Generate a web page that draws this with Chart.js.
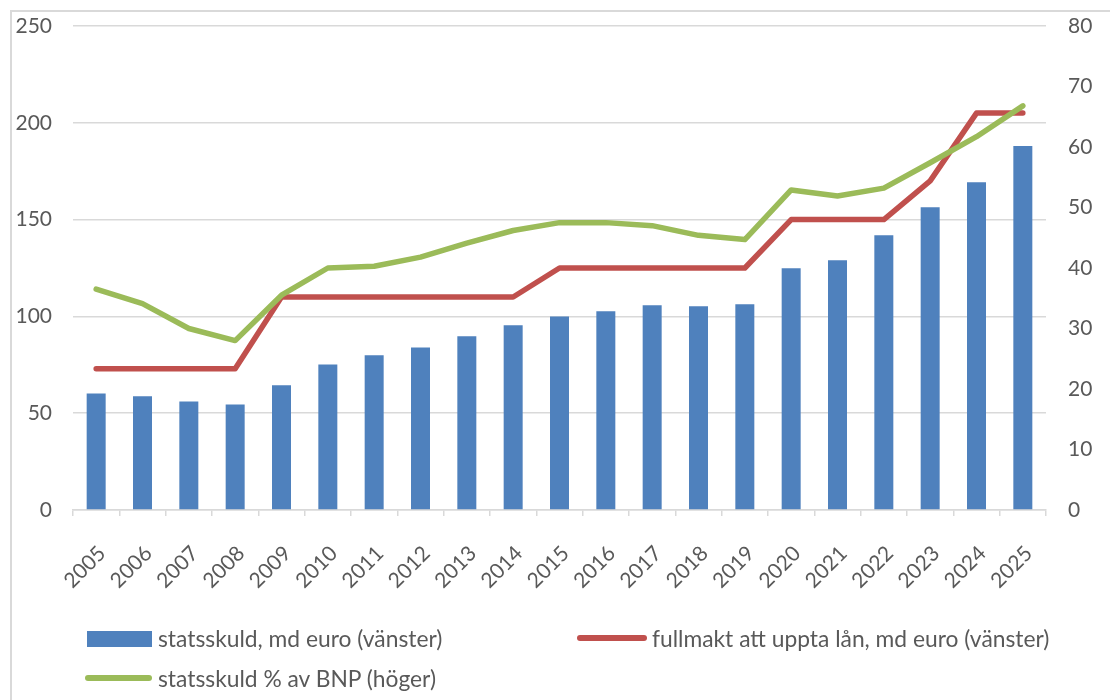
<!DOCTYPE html>
<html>
<head>
<meta charset="utf-8">
<script src="https://cdn.jsdelivr.net/npm/chart.js@4/dist/chart.umd.min.js"></script>
<style>
  html, body { margin: 0; padding: 0; background: #fff; }
  #wrap { position: relative; width: 1110px; height: 700px; overflow: hidden; background: #fff; }
  #frame { position: absolute; left: 10px; top: 10px; width: 1200px; height: 800px;
           border-top: 2px solid #d9d9d9; border-left: 2px solid #d9d9d9; box-sizing: border-box; }
  #c { position: absolute; left: 0; top: 0; }
  .lg { position: absolute; font-family: Lato, sans-serif; font-size: 22.8px; color: #595959; white-space: nowrap; }
  .sw { position: absolute; }
</style>
</head>
<body>
<div id="wrap">
  <div id="frame"></div>
  <canvas id="c" width="1110" height="700"></canvas>
  <div id="legend"></div>
</div>
<script>
const years = ['2005','2006','2007','2008','2009','2010','2011','2012','2013','2014','2015','2016','2017','2018','2019','2020','2021','2022','2023','2024','2025'];
const debt = [60.2, 58.7, 56.1, 54.5, 64.4, 75.2, 79.9, 84.0, 89.7, 95.4, 100.0, 102.6, 105.7, 105.2, 106.3, 124.9, 129.0, 141.9, 156.4, 169.3, 188.0];
const mandate = [73, 73, 73, 73, 110, 110, 110, 110, 110, 110, 125, 125, 125, 125, 125, 150, 150, 150, 170, 205, 205];
const debtGdp = [36.5, 34.1, 30.0, 28.0, 35.5, 40.0, 40.3, 41.8, 44.1, 46.2, 47.5, 47.5, 47.0, 45.4, 44.7, 52.9, 51.9, 53.2, 57.4, 61.7, 66.8];
const leftTicks = [0, 50, 100, 150, 200, 250];
const rightTicks = [0, 10, 20, 30, 40, 50, 60, 70, 80];
const labels = ['statsskuld, md euro (vänster)', 'fullmakt att uppta lån, md euro (vänster)', 'statsskuld % av BNP (höger)'];

const BLUE = '#4F81BD', RED = '#C0504D', GREEN = '#9BBB59';
const TXT = '#595959', GRID = '#d9d9d9';
const tickFont = { family: 'Lato', size: 21 };

const chart = new Chart(document.getElementById('c'), {
  type: 'bar',
  data: {
    labels: years,
    datasets: [
      { type: 'bar', label: labels[0], data: debt, backgroundColor: BLUE, yAxisID: 'y',
        categoryPercentage: 1, barPercentage: 0.41, order: 3 },
      { type: 'line', label: labels[1], data: mandate, borderColor: RED, backgroundColor: RED, yAxisID: 'y',
        borderWidth: 5.5, pointRadius: 0, tension: 0, borderCapStyle: 'round', borderJoinStyle: 'round', order: 2 },
      { type: 'line', label: labels[2], data: debtGdp, borderColor: GREEN, backgroundColor: GREEN, yAxisID: 'y2',
        borderWidth: 5.5, pointRadius: 0, tension: 0, borderCapStyle: 'round', borderJoinStyle: 'round', order: 1 }
    ]
  },
  options: {
    responsive: false,
    animation: false,
    layout: { padding: { top: 26, left: 0, right: 0, bottom: 0 } },
    plugins: { legend: { display: false }, tooltip: { enabled: false } },
    scales: {
      x: {
        grid: { display: true, offset: true, drawOnChartArea: false, drawTicks: true, tickLength: 6, color: GRID, lineWidth: 1.5 },
        border: { display: true, color: GRID, width: 1.5 },
        ticks: { color: TXT, font: tickFont, minRotation: 45, maxRotation: 45, padding: 25, labelOffset: 6, autoSkip: false },
        afterFit: (s) => { s.height = 190; s.paddingLeft = 0; s.paddingRight = 0; }
      },
      y: {
        position: 'left', min: 0, max: 250,
        afterBuildTicks: (s) => { s.ticks = leftTicks.map(v => ({ value: v })); },
        grid: { color: GRID, lineWidth: 1.5, drawTicks: false },
        border: { display: false },
        ticks: { color: TXT, font: tickFont, padding: 21 },
        afterFit: (s) => { s.width = 73; s.paddingTop = 0; s.paddingBottom = 0; }
      },
      y2: {
        position: 'right', min: 0, max: 80,
        afterBuildTicks: (s) => { s.ticks = rightTicks.map(v => ({ value: v })); },
        grid: { display: false, drawOnChartArea: false, drawTicks: false },
        border: { display: false },
        ticks: { color: TXT, font: tickFont, padding: 22 },
        afterFit: (s) => { s.width = 64; s.paddingTop = 0; s.paddingBottom = 0; }
      }
    }
  }
});

// HTML legend built from the chart's datasets
const legendPos = [
  { sx: 87, sy: 631, sw: 65, sh: 16, tx: 158, ty: 638, kind: 'box' },
  { sx: 577, sy: 635, sw: 70, sh: 6, tx: 652, ty: 638, kind: 'line' },
  { sx: 85, sy: 675, sw: 67, sh: 6, tx: 158, ty: 678, kind: 'line' }
];
const lg = document.getElementById('legend');
chart.data.datasets.forEach((ds, i) => {
  const p = legendPos[i];
  const sw = document.createElement('div');
  sw.className = 'sw';
  sw.style.left = p.sx + 'px'; sw.style.top = p.sy + 'px';
  sw.style.width = p.sw + 'px'; sw.style.height = p.sh + 'px';
  sw.style.background = ds.type === 'bar' ? ds.backgroundColor : ds.borderColor;
  if (p.kind === 'line') sw.style.borderRadius = (p.sh / 2) + 'px';
  lg.appendChild(sw);
  const t = document.createElement('div');
  t.className = 'lg';
  t.textContent = ds.label;
  t.style.left = p.tx + 'px';
  t.style.top = (p.ty - 15) + 'px';
  t.style.lineHeight = '30px';
  lg.appendChild(t);
});
</script>
</body>
</html>
